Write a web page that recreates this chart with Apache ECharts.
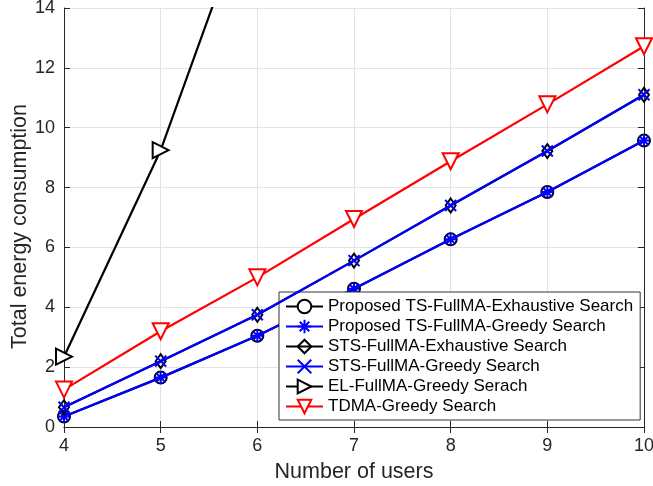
<!DOCTYPE html>
<html><head><meta charset="utf-8">
<script src="https://cdn.jsdelivr.net/npm/echarts@6/dist/echarts.min.js"></script>
<style>html,body{margin:0;padding:0;background:#fff}#c{width:653px;height:486px}</style>
</head><body><div id="c"></div>
<script>
const users = [4, 5, 6, 7, 8, 9, 10];
const tsExhaustive = [0.35, 1.65, 3.05, 4.62, 6.27, 7.85, 9.57];
const tsGreedy = [0.35, 1.65, 3.05, 4.62, 6.27, 7.85, 9.57];
const stsExhaustive = [0.66, 2.2, 3.75, 5.56, 7.4, 9.22, 11.1];
const stsGreedy = [0.66, 2.2, 3.75, 5.56, 7.4, 9.22, 11.1];
const elGreedy = [2.35, 9.25, 18.2, 27.5, 37.0, 47.0, 57.0];
const tdmaGreedy = [1.25, 3.2, 5.0, 6.95, 8.88, 10.78, 12.72];
const names = ['Proposed TS-FullMA-Exhaustive Search','Proposed TS-FullMA-Greedy Search','STS-FullMA-Exhaustive Search','STS-FullMA-Greedy Search','EL-FullMA-Greedy Serach','TDMA-Greedy Search'];
const yTicks = [0, 2, 4, 6, 8, 10, 12, 14];

const FONT = 'Liberation Sans';
const AX = '#262626';
const asterisk = 'path://M5,0L5,10M0,5L10,5M1.5,1.5L8.5,8.5M8.5,1.5L1.5,8.5';
const xMark = 'path://M0,0L10,10M10,0L0,10';
const diamond = 'path://M5,0L10,7L5,14L0,7Z';

function mk(name, data, color, symbol, size, rot, z) {
  const isPath = symbol.startsWith('path');
  return {
    name, type: 'line', data: users.map((u, i) => [u, data[i]]),
    symbol, symbolSize: size, symbolRotate: rot || 0, showAllSymbol: true,
    lineStyle: {color, width: 2.2},
    itemStyle: isPath ? {color: symbol === diamond ? 'rgba(255,255,255,0)' : color, borderColor: color, borderWidth: 2}
                      : {color: color, borderWidth: 2},
    clip: true, animation: false, z: z
  };
}

const chart = echarts.init(document.getElementById('c'), null, {renderer: 'canvas'});
const axisCommon = {
  axisLine: {show: true, lineStyle: {color: AX, width: 1}},
  axisTick: {show: true, inside: true, length: 6, lineStyle: {color: AX}},
};
chart.setOption({
  backgroundColor: '#fff',
  animation: false,
  grid: {left: 64, right: 9, top: 8, bottom: 59, containLabel: false, outerBoundsMode: 'none'},
  xAxis: [{
    type: 'value', min: 4, max: 10, interval: 1, ...axisCommon,
    name: 'Number of users', nameLocation: 'middle', nameGap: 34, nameMoveOverlap: false,
    nameTextStyle: {fontFamily: FONT, fontSize: 21.5, color: AX},
    axisLabel: {fontFamily: FONT, fontSize: 18, color: AX, margin: 10},
    splitLine: {show: true, lineStyle: {color: '#e3e3e3', width: 1}}
  }, {
    type: 'value', position: 'top', min: 4, max: 10, interval: 1, ...axisCommon,
    axisLabel: {show: false}, splitLine: {show: false}
  }],
  yAxis: [{
    type: 'value', min: 0, max: 14, interval: 2, ...axisCommon,
    name: 'Total energy consumption', nameLocation: 'middle', nameGap: 33, nameMoveOverlap: false,
    nameTextStyle: {fontFamily: FONT, fontSize: 21.5, color: AX, padding: [0, 18, 0, 0]},
    axisLabel: {fontFamily: FONT, fontSize: 18, color: AX, margin: 9, formatter: v => yTicks.includes(v) ? String(v) : ''},
    splitLine: {show: true, lineStyle: {color: '#e3e3e3', width: 1}}
  }, {
    type: 'value', position: 'right', min: 0, max: 14, interval: 2, ...axisCommon,
    axisLabel: {show: false}, splitLine: {show: false}
  }],
  legend: {
    orient: 'vertical', left: 279, top: 292,
    backgroundColor: '#fff', borderColor: '#333', borderWidth: 1,
    padding: [6, 7, 5, 6], itemGap: 3, itemWidth: 37, itemHeight: 17,
    textStyle: {fontFamily: FONT, fontSize: 17, color: '#000'},
    data: names
  },
  series: [
    mk(names[0], tsExhaustive, '#000', 'emptyCircle', 12, 0, 2),
    mk(names[1], tsGreedy, '#0000ff', asterisk, 13, 0, 3),
    mk(names[2], stsExhaustive, '#000', diamond, [10, 14], 0, 4),
    mk(names[3], stsGreedy, '#0000ff', xMark, 11, 0, 5),
    mk(names[4], elGreedy, '#000', 'emptyTriangle', 16, -90, 6),
    mk(names[5], tdmaGreedy, '#ff0000', 'emptyTriangle', 16, 180, 7)
  ]
});
</script></body></html>
